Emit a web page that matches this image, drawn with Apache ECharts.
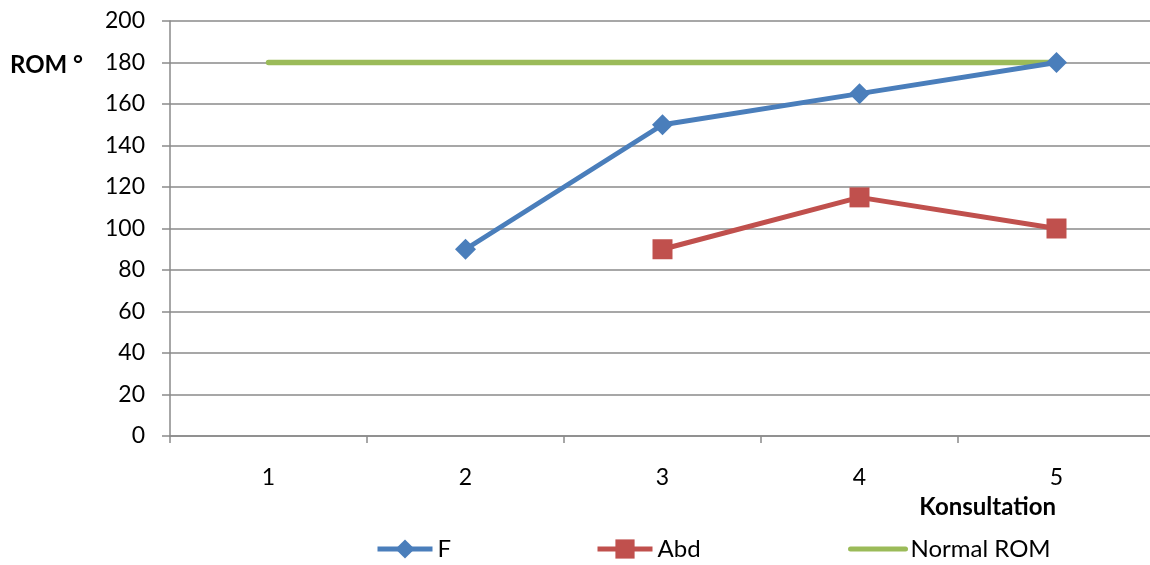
<!DOCTYPE html>
<html>
<head>
<meta charset="utf-8">
<script src="https://cdn.jsdelivr.net/npm/echarts@6/dist/echarts.min.js"></script>
<style>
  html, body { margin: 0; padding: 0; background: #fff; }
  #chart { width: 1150px; height: 565px; }
</style>
</head>
<body>
<div id="chart"></div>
<script>
// Consultation numbers on the x axis
const categories = ['1', '2', '3', '4', '5'];
// Range of motion (degrees) per consultation
const flexion = [null, 90, 150, 165, 180];
const abduction = [null, null, 90, 115, 100];
const normalRom = [180, 180, 180, 180, 180];

const FONT = 'Lato, "Open Sans", sans-serif';
const GRID_COLOR = '#8a8a8a';
const BLUE = '#4a7ebb';
const RED = '#c0504d';
const GREEN = '#9bbb59';

// One legend block per series so each entry sits at its own spot
function legendAt(left, name, extra) {
  return Object.assign({
    left: left,
    top: 537,
    padding: 0,
    itemWidth: 55,
    itemHeight: 24,
    lineStyle: { width: 5 },
    textStyle: { fontSize: 24, color: '#000', fontFamily: FONT },
    data: [name]
  }, extra || {});
}

const chart = echarts.init(document.getElementById('chart'));
chart.setOption({
  animation: false,
  backgroundColor: '#ffffff',
  textStyle: { fontFamily: FONT },
  grid: {
    left: 170, top: 21, width: 985, height: 415,
    containLabel: false,
    outerBoundsMode: 'none'
  },
  xAxis: {
    type: 'category',
    data: categories,
    boundaryGap: true,
    axisLine: { lineStyle: { color: GRID_COLOR, width: 1.5 } },
    axisTick: { show: true, length: 7, lineStyle: { color: GRID_COLOR, width: 1.5 } },
    axisLabel: { color: '#000', fontSize: 23, fontFamily: FONT, margin: 30 }
  },
  yAxis: {
    type: 'value',
    min: 0,
    max: 200,
    interval: 20,
    axisLine: { show: true, lineStyle: { color: GRID_COLOR, width: 1.5 } },
    axisTick: { show: true, length: 8, lineStyle: { color: GRID_COLOR, width: 1.5 } },
    splitLine: { lineStyle: { color: GRID_COLOR, width: 1.5 } },
    axisLabel: { color: '#000', fontSize: 23, fontFamily: FONT, margin: 25 }
  },
  legend: [
    legendAt(375, 'F'),
    legendAt(595, 'Abd'),
    legendAt(848, { name: 'Normal ROM', itemStyle: { opacity: 0 } })
  ],
  graphic: [
    {
      type: 'text',
      x: 10,
      y: 65,
      style: {
        text: 'ROM °', font: 'bold 24px ' + FONT, fill: '#000',
        align: 'left', verticalAlign: 'middle'
      }
    },
    {
      type: 'text',
      x: 1056,
      y: 507,
      style: {
        text: 'Konsultation', font: 'bold 24px ' + FONT, fill: '#000',
        align: 'right', verticalAlign: 'middle'
      }
    }
  ],
  series: [
    {
      name: 'F',
      type: 'line',
      data: flexion,
      color: BLUE,
      symbol: 'diamond',
      symbolSize: 21,
      lineStyle: { width: 5, color: BLUE },
      itemStyle: { color: BLUE },
      z: 3
    },
    {
      name: 'Abd',
      type: 'line',
      data: abduction,
      color: RED,
      symbol: 'rect',
      symbolSize: 20,
      lineStyle: { width: 5, color: RED },
      itemStyle: { color: RED },
      z: 3
    },
    {
      name: 'Normal ROM',
      type: 'line',
      data: normalRom,
      color: GREEN,
      symbol: 'none',
      lineStyle: { width: 5.5, color: GREEN, cap: 'round' },
      itemStyle: { color: GREEN },
      z: 2
    }
  ]
});
</script>
</body>
</html>
